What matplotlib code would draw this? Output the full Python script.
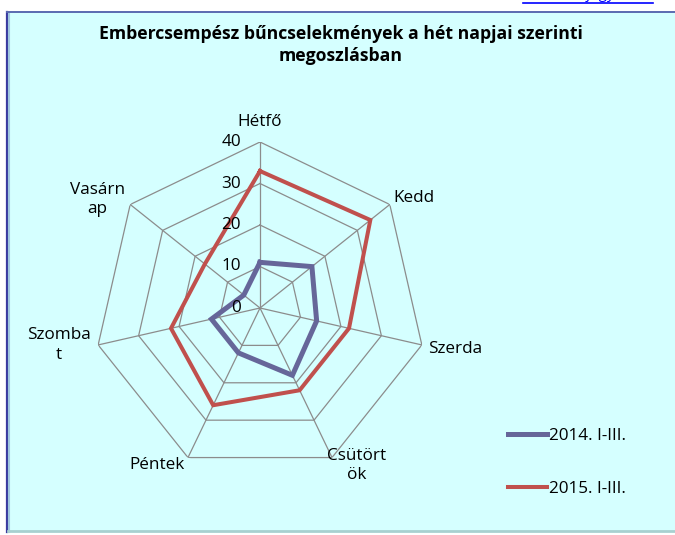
import numpy as np
import matplotlib
matplotlib.use("Agg")
from matplotlib import pyplot as plt
from matplotlib.patches import Rectangle

plt.rcParams['font.family'] = ['Open Sans', 'DejaVu Sans']

napok = ["Hétfő", "Kedd", "Szerda", "Csütört\nök", "Péntek", "Szomba\nt", "Vasárn\nap"]
ev2014 = [11, 16, 14, 18, 12, 12, 5]
ev2015 = [33, 34, 22, 22, 26, 22, 17]
szintek = [0, 10, 20, 30, 40]
sorozatok = ["2014. I-III.", "2015. I-III."]

kek = "#666699"
piros = "#C0504D"
racs = "#8C8C8C"

W, H = 675, 535
fig = plt.figure(figsize=(W / 100, H / 100), dpi=100)
fig.patch.set_facecolor("white")

# frame with light cyan fill
fig.patches.append(Rectangle((7 / W, 1 - 532 / H), 700 / W, 520 / H, transform=fig.transFigure,
                             facecolor="#D5FFFF", edgecolor="none", zorder=-5))
fig.add_artist(plt.Line2D([7 / W, 7 / W], [1 - 532 / H, 1 - 12 / H], transform=fig.transFigure,
                          color="#3A3AA0", lw=1.6))
fig.add_artist(plt.Line2D([9 / W, 9 / W], [1 - 532 / H, 1 - 13 / H], transform=fig.transFigure,
                          color="#9FC8E0", lw=1.5))
fig.add_artist(plt.Line2D([7 / W, 1], [1 - 12 / H, 1 - 12 / H], transform=fig.transFigure,
                          color="#5A6AB0", lw=1.4))
fig.add_artist(plt.Line2D([8 / W, 1], [1 - 531 / H, 1 - 531 / H], transform=fig.transFigure,
                          color="#A8D0D0", lw=2))

# cut-off link at the top
fig.text(523 / W, 1 + 2 / H, "Tartalomjegyzék", color="#0000FF", fontsize=11,
         ha="left", va="baseline")
fig.add_artist(plt.Line2D([523 / W, 653 / W], [1 - 3 / H, 1 - 3 / H], transform=fig.transFigure,
                          color="#0000FF", lw=1.2))

fig.text(341 / W, 1 - 45 / H, "Embercsempész bűncselekmények a hét napjai szerinti\nmegoszlásban",
         ha="center", va="center", fontsize=12.7, fontweight="bold", linespacing=1.3)

cx, cy, R = 260, 308, 166
ax = fig.add_axes([(cx - R) / W, (H - cy - R) / H, 2 * R / W, 2 * R / H], projection="polar")
ax.set_facecolor("none")
ax.set_theta_offset(np.pi / 2)
ax.set_theta_direction(-1)
ax.set_ylim(0, 40)
ax.grid(False)
ax.spines["polar"].set_visible(False)
ax.set_xticks([])
ax.set_yticks([])

n = len(napok)
szog = np.linspace(0, 2 * np.pi, n, endpoint=False)
szog_z = np.append(szog, szog[0])

for s in szintek[1:]:
    ax.plot(szog_z, [s] * (n + 1), color=racs, lw=0.9, zorder=1)
for t in szog:
    ax.plot([t, t], [0, 40], color=racs, lw=0.9, zorder=1)

ax.plot(szog_z, ev2014 + ev2014[:1], color=kek, lw=3.6, label=sorozatok[0], zorder=3,
        solid_joinstyle="miter")
ax.plot(szog_z, ev2015 + ev2015[:1], color=piros, lw=2.9, label=sorozatok[1], zorder=3,
        solid_joinstyle="miter")

for s in szintek:
    ax.annotate(str(s), (0, s), xytext=(-19, 0), textcoords="offset pixels",
                ha="right", va="center", fontsize=12.3)

eltolas = [(0, 20), (24, 7), (33, -4), (25, -8), (-31, -7), (-39, 0), (-33, 5)]
for t, nev, d in zip(szog, napok, eltolas):
    ax.annotate(nev, (t, 40), xytext=d, textcoords="offset pixels",
                ha="center", va="center", fontsize=12.3, multialignment="center",
                linespacing=1.3, annotation_clip=False)

fig.legend(loc="upper left", bbox_to_anchor=(508 / W, 1 - 428 / H), frameon=False,
           fontsize=12.3, handlelength=2.3, handletextpad=0.08, labelspacing=2.15,
           borderpad=0, borderaxespad=0)

fig.savefig("out.png", dpi=100)
